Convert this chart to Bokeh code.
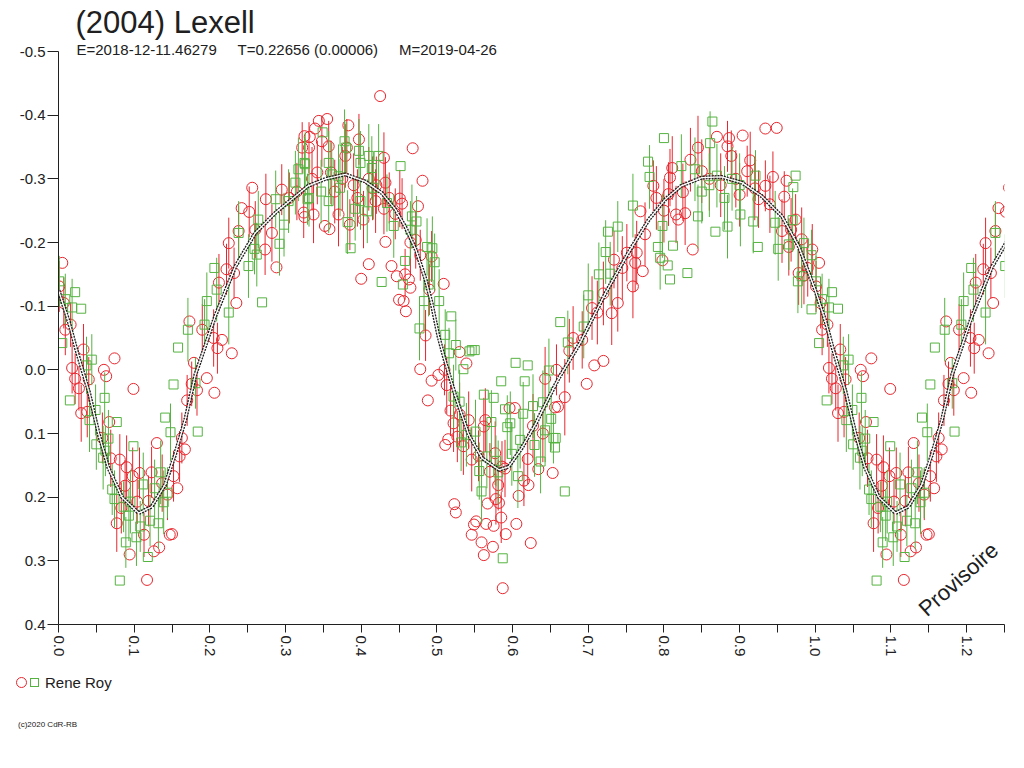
import math
from bokeh.plotting import figure
from bokeh.layouts import column
from bokeh.models import (Range1d, FixedTicker, PrintfTickFormatter, Label, Title,
                          ColumnDataSource, Div)
from bokeh.embed import file_html
from bokeh.resources import INLINE

FONT = "Liberation Sans"
INK = "#202020"
RED = "#e8262d"
GREEN = "#55b340"
NB = "\u00a0" * 5

title = "(2004) Lexell"
subtitle = "E=2018-12-11.46279" + NB + "T=0.22656 (0.00006)" + NB + "M=2019-04-26"
observer = "Rene Roy"
credit = "(c)2020 CdR-RB"

x_ticks = [0.0, 0.1, 0.2, 0.3, 0.4, 0.5, 0.6, 0.7, 0.8, 0.9, 1.0, 1.1, 1.2]
x_minor = [0.05, 0.15, 0.25, 0.35, 0.45, 0.55, 0.65, 0.75, 0.85, 0.95, 1.05, 1.15, 1.25]
y_ticks = [-0.5, -0.4, -0.3, -0.2, -0.1, 0.0, 0.1, 0.2, 0.3, 0.4]

# red observations: phase, relative magnitude, error (0 = no bar)
red_phase = [
    0.005, 0.007, 0.009, 0.016, 0.018, 0.022, 0.027, 0.033, 0.030, 0.038,
    0.040, 0.060, 0.063, 0.074, 0.099, 0.067, 0.058, 0.069, 0.081, 0.090,
    0.098, 0.088, 0.107, 0.123, 0.130, 0.104, 0.119, 0.083, 0.077, 0.094,
    0.113, 0.126, 0.133, 0.117, 0.147, 0.150, 0.137, 0.144, 0.152, 0.157,
    0.160, 0.163, 0.167, 0.170, 0.176, 0.183, 0.179, 0.196, 0.206, 0.210,
    0.229, 0.173, 0.190, 0.205, 0.216, 0.212, 0.222, 0.232, 0.235, 0.225,
    0.238, 0.242, 0.252, 0.256, 0.260, 0.273, 0.274, 0.282, 0.288, 0.295,
    0.305, 0.315, 0.325, 0.322, 0.324, 0.325, 0.001,
    0.425, 0.344, 0.355, 0.339, 0.332, 0.348, 0.383, 0.397, 0.381, 0.331,
    0.357, 0.379, 0.430, 0.468, 0.481, 0.432, 0.451, 0.454, 0.475, 0.419,
    0.430, 0.370, 0.337, 0.403, 0.352, 0.358, 0.385, 0.432, 0.410, 0.400,
    0.440, 0.447, 0.458, 0.463, 0.493, 0.509, 0.490, 0.465, 0.450, 0.456,
    0.459, 0.485, 0.472, 0.335, 0.342, 0.360, 0.365, 0.375, 0.390, 0.395,
    0.410, 0.415, 0.420, 0.437, 0.445, 0.465, 0.478,
    0.478, 0.493, 0.502, 0.513, 0.488, 0.530, 0.539, 0.510, 0.518, 0.522,
    0.542, 0.527, 0.515, 0.511, 0.564, 0.562, 0.596, 0.603, 0.627, 0.643,
    0.658, 0.656, 0.653, 0.634, 0.621, 0.615, 0.608, 0.546, 0.577, 0.586,
    0.590, 0.581, 0.578, 0.582, 0.567, 0.523, 0.525, 0.585, 0.552, 0.549,
    0.565, 0.575, 0.605, 0.591, 0.546, 0.559, 0.574, 0.624, 0.562, 0.587,
    0.535, 0.555, 0.570, 0.530, 0.620, 0.640,
    0.934, 0.949, 0.870, 0.886, 0.904, 0.845, 0.884, 0.835, 0.889, 0.914,
    0.811, 0.850, 0.910, 0.808, 0.944, 0.962, 0.786, 0.934, 0.825, 0.806,
    0.790, 0.959, 0.925, 0.816, 0.828, 0.819, 0.974, 0.956, 0.982, 0.996,
    0.965, 0.769, 0.775, 0.838, 0.798, 0.751, 0.764, 0.762, 0.772, 0.759,
    0.734, 0.731, 0.739, 0.705, 0.712, 0.692, 0.978, 0.985, 0.720, 0.708,
    0.698, 0.669, 0.660, 0.860, 0.875, 0.895, 0.920, 0.900, 0.940, 0.968,
    0.990, 0.800, 0.745, 0.720, 0.680, 0.675,
]
red_mag = [
    -0.168, -0.105, -0.063, -0.071, -0.003, 0.014, 0.029, -0.032, 0.068, 0.066,
    0.015, 0.000, 0.010, -0.018, 0.030, 0.082, 0.107, 0.139, 0.141, 0.153,
    0.167, 0.182, 0.162, 0.161, 0.115, 0.207, 0.206, 0.217, 0.241, 0.290,
    0.259, 0.285, 0.279, 0.330, 0.259, 0.258, 0.178, 0.196, 0.167, 0.186,
    0.136, 0.107, 0.125, 0.048, 0.022, 0.032, -0.011, 0.013, 0.036, -0.034,
    -0.026, -0.076, -0.063, -0.050, -0.047, -0.137, -0.158, -0.152, -0.105, -0.199,
    -0.218, -0.254, -0.248, -0.286, -0.220, -0.189, -0.268, -0.215, -0.161, -0.283,
    -0.270, -0.280, -0.367, -0.349, -0.247, -0.240, -0.131,
    -0.430, -0.391, -0.394, -0.379, -0.366, -0.359, -0.384, -0.362, -0.349, -0.349,
    -0.351, -0.336, -0.333, -0.348, -0.297, -0.294, -0.269, -0.261, -0.257, -0.265,
    -0.253, -0.244, -0.244, -0.236, -0.226, -0.221, -0.228, -0.201, -0.166, -0.143,
    -0.163, -0.147, -0.150, -0.142, -0.178, -0.135, -0.126, -0.129, -0.110, -0.108,
    -0.092, -0.054, -0.204, -0.300, -0.310, -0.310, -0.280, -0.300, -0.290, -0.270,
    -0.300, -0.285, -0.290, -0.270, -0.245, -0.200, -0.180,
    -0.001, 0.017, 0.008, 0.024, 0.048, -0.028, -0.010, 0.000, 0.064, 0.084,
    0.079, 0.105, 0.109, 0.118, 0.079, 0.089, 0.060, 0.060, 0.088, 0.014,
    0.000, 0.059, 0.162, 0.156, 0.181, 0.174, 0.198, 0.141, 0.131, 0.152,
    0.155, 0.181, 0.203, 0.209, 0.210, 0.211, 0.224, 0.232, 0.238, 0.243,
    0.242, 0.245, 0.242, 0.258, 0.259, 0.271, 0.278, 0.272, 0.291, 0.343,
    0.120, 0.135, 0.160, 0.070, 0.140, 0.100,
    -0.379, -0.380, -0.366, -0.364, -0.368, -0.349, -0.351, -0.330, -0.336, -0.329,
    -0.317, -0.312, -0.312, -0.302, -0.303, -0.297, -0.289, -0.289, -0.279, -0.276,
    -0.270, -0.272, -0.268, -0.244, -0.246, -0.236, -0.236, -0.218, -0.205, -0.189,
    -0.193, -0.249, -0.213, -0.189, -0.172, -0.184, -0.184, -0.168, -0.155, -0.131,
    -0.173, -0.089, -0.105, -0.097, -0.090, -0.047, -0.152, -0.148, -0.014, -0.007,
    0.022, 0.043, 0.058, -0.300, -0.290, -0.300, -0.285, -0.275, -0.260, -0.220,
    -0.160, -0.250, -0.160, -0.120, -0.050, -0.030,
]
red_err = [
    0, .04, .04, .035, .04, .04, .035, .04, .045, .04,
    .035, 0, 0, 0, 0, 0, .04, .045, .04, .05,
    .045, .04, .04, .04, 0, .035, .04, .04, .045, 0,
    .035, 0, 0, 0, 0, 0, .045, .04, .04, 0,
    .04, .04, 0, .04, .035, .04, 0, 0, 0, .04,
    0, 0, .04, .045, 0, .045, .04, .04, 0, .04,
    .04, 0, .04, 0, .045, .04, .04, .045, 0, .04,
    .04, .045, 0, .04, .04, 0, .04,
    0, 0, 0, 0, 0, .04, 0, .04, .045, .04,
    .04, .05, .04, 0, 0, .04, .045, .04, 0, .05,
    .04, .05, .045, .045, 0, 0, .04, 0, 0, 0,
    0, 0, .04, 0, .04, 0, .04, 0, 0, 0,
    0, .04, .045, .05, .05, .05, .05, .05, .05, .045,
    .05, .05, .045, .04, .04, .05, .04,
    0, 0, 0, .045, 0, 0, 0, .04, .04, .045,
    .045, .04, 0, 0, .05, .045, 0, 0, .05, .05,
    .04, 0, 0, 0, 0, .04, 0, .05, .05, .04,
    .045, .04, .04, 0, 0, 0, 0, .04, 0, 0,
    0, 0, 0, 0, 0, 0, 0, 0, 0, 0,
    .045, .04, .045, .05, .04, .045,
    0, 0, 0, 0, 0, .05, .04, .05, .04, .045,
    .05, .05, .04, .045, .04, 0, .04, .04, .045, .05,
    .05, .04, .045, .045, .05, 0, .04, .05, .05, .04,
    .045, 0, .05, 0, 0, .045, .05, .045, 0, .05,
    .045, .05, .045, .05, .05, .045, .05, .045, 0, 0,
    0, .06, 0, .05, .05, .045, .05, .05, .045, .05,
    .045, .05, .05, .05, .05, .05,
]

# green observations
green_phase = [
    0.001, 0.022, 0.030, 0.018, 0.009, 0.005, 0.044, 0.037, 0.015, 0.061,
    0.049, 0.041, 0.077, 0.050, 0.066, 0.062, 0.059, 0.099, 0.071, 0.074,
    0.086, 0.093, 0.095, 0.112, 0.127, 0.121, 0.132, 0.108, 0.103, 0.089,
    0.118, 0.081, 0.135, 0.139, 0.144, 0.141, 0.148, 0.152, 0.158, 0.184,
    0.181, 0.206, 0.209, 0.196, 0.225, 0.269, 0.171, 0.193, 0.238, 0.251,
    0.264, 0.262, 0.259, 0.292, 0.298, 0.287, 0.304, 0.313, 0.317, 0.326,
    0.329,
    0.349, 0.378, 0.380, 0.452, 0.386, 0.427, 0.397, 0.399, 0.410, 0.423,
    0.414, 0.357, 0.361, 0.370, 0.372, 0.325, 0.331, 0.357, 0.347, 0.392,
    0.408, 0.399, 0.382, 0.416, 0.434, 0.443, 0.467, 0.473, 0.465, 0.487,
    0.494, 0.497, 0.458, 0.455, 0.483, 0.489, 0.503, 0.519, 0.477, 0.511,
    0.525, 0.516, 0.543, 0.546, 0.550, 0.535, 0.604, 0.620, 0.585, 0.616,
    0.648, 0.562, 0.575, 0.590, 0.627, 0.640, 0.614, 0.597, 0.593, 0.572,
    0.651, 0.643, 0.654, 0.656, 0.629, 0.610, 0.599, 0.551, 0.539, 0.532,
    0.522, 0.530, 0.566, 0.578, 0.556, 0.581, 0.607, 0.559, 0.637, 0.587,
    0.669,
    0.864, 0.800, 0.861, 0.779, 0.781, 0.974, 0.971, 0.823, 0.841, 0.921,
    0.870, 0.890, 0.900, 0.850, 0.860, 0.880, 0.759, 0.726, 0.739, 0.723,
    0.714, 0.729, 0.700, 0.663, 0.694, 0.673, 0.798, 0.792, 0.795, 0.805,
    0.812, 0.808, 0.831, 0.868, 0.884, 0.845, 0.901, 0.924, 0.918, 0.947,
    0.951, 0.970, 0.965, 0.985, 0.995, 0.982, 0.977, 0.995, 0.657,
]
green_mag = [
    -0.139, -0.122, -0.096, -0.098, -0.111, -0.042, -0.016, -0.007, 0.048, 0.044,
    0.063, 0.079, 0.082, 0.117, 0.108, 0.127, 0.138, 0.120, 0.188, 0.203,
    0.215, 0.229, 0.207, 0.180, 0.186, 0.237, 0.241, 0.246, 0.263, 0.271,
    0.294, 0.331, 0.161, 0.208, 0.193, 0.075, 0.098, 0.023, -0.035, 0.097,
    0.021, -0.160, -0.126, -0.108, -0.090, -0.106, -0.063, -0.071, -0.215, -0.163,
    -0.236, -0.181, -0.190, -0.198, -0.228, -0.268, -0.265, -0.294, -0.315, -0.323,
    -0.268,
    -0.373, -0.359, -0.349, -0.320, -0.191, -0.138, -0.344, -0.325, -0.336, -0.336,
    -0.317, -0.325, -0.307, -0.304, -0.286, -0.325, -0.270, -0.265, -0.280, -0.253,
    -0.249, -0.265, -0.232, -0.286, -0.262, -0.226, -0.241, -0.233, -0.220, -0.193,
    -0.191, -0.169, -0.171, -0.134, -0.108, -0.134, -0.108, -0.084, -0.065, -0.055,
    -0.039, -0.026, -0.029, -0.031, -0.031, -0.001, -0.011, -0.007, 0.018, 0.018,
    0.001, 0.039, 0.044, 0.062, 0.057, 0.051, 0.069, 0.084, 0.090, 0.082,
    0.077, 0.095, 0.107, 0.122, 0.118, 0.110, 0.132, 0.097, 0.102, 0.114,
    0.042, 0.050, 0.136, 0.143, 0.159, 0.161, 0.167, 0.191, 0.144, 0.296,
    0.191,
    -0.390, -0.364, -0.356, -0.327, -0.303, -0.305, -0.287, -0.320, -0.315, -0.305,
    -0.305, -0.300, -0.290, -0.280, -0.290, -0.270, -0.258, -0.217, -0.225, -0.185,
    -0.150, -0.151, -0.117, -0.075, -0.068, -0.043, -0.226, -0.193, -0.176, -0.164,
    -0.195, -0.142, -0.152, -0.217, -0.225, -0.241, -0.244, -0.193, -0.233, -0.231,
    -0.190, -0.235, -0.197, -0.199, -0.180, -0.147, -0.139, -0.095, 0.107,
]
green_err = [
    .04, 0, 0, .045, .04, 0, .04, .045, 0, .04,
    .04, .05, 0, .04, .045, .04, .05, 0, .04, .045,
    .04, .04, .05, .05, .045, .04, .04, .04, .045, .04,
    0, 0, .05, .05, .04, 0, .045, 0, 0, 0,
    .04, 0, .05, .045, .05, 0, .05, .04, .05, .05,
    .045, .05, .04, .05, .05, .045, .05, .05, .05, .05,
    .04,
    0, .05, .04, 0, 0, 0, .05, .05, .05, .05,
    .05, .05, .05, .05, .045, .04, .045, .05, .05, .05,
    .05, .045, .05, .05, .045, .05, .05, .04, .045, .045,
    .05, .045, 0, 0, .045, .05, .05, 0, .05, .04,
    .04, .04, 0, 0, 0, 0, 0, 0, 0, 0,
    .05, 0, 0, 0, .05, .05, .05, .05, .05, .05,
    .05, .05, .04, 0, .05, .045, .05, .05, .05, .045,
    .05, .05, .05, .04, .045, .05, .05, .05, .05, 0,
    0,
    0, 0, .05, 0, .05, 0, 0, .05, .05, .04,
    .05, .05, .05, .05, .05, .05, .05, 0, .04, .05,
    .05, .05, .05, 0, .05, .05, .05, 0, .05, 0,
    0, 0, 0, 0, .05, .05, .05, 0, .05, .05,
    .05, .05, .04, .04, .04, .05, .05, 0, 0,
]

# fitted lightcurve
curve_phase = [
    0.000, 0.014, 0.023, 0.040, 0.053, 0.066, 0.084, 0.106, 0.123, 0.141,
    0.154, 0.168, 0.181, 0.196, 0.207, 0.234, 0.260, 0.287, 0.330, 0.353,
    0.379, 0.405, 0.427, 0.445, 0.458, 0.472, 0.485, 0.493, 0.502, 0.511,
    0.524, 0.542, 0.560, 0.582, 0.595, 0.612, 0.630, 0.643, 0.661, 0.689,
    0.723, 0.753, 0.780, 0.802, 0.823, 0.850, 0.876, 0.903, 0.929, 0.956,
    0.978, 1.000,
]
curve_mag = [
    -0.125, -0.074, -0.034, 0.034, 0.100, 0.154, 0.200, 0.225, 0.215, 0.180,
    0.133, 0.076, 0.007, -0.045, -0.084, -0.163, -0.215, -0.247, -0.289, -0.300,
    -0.307, -0.296, -0.278, -0.252, -0.225, -0.189, -0.142, -0.105, -0.053, -0.013,
    0.039, 0.102, 0.139, 0.157, 0.152, 0.123, 0.086, 0.055, 0.013, -0.042,
    -0.121, -0.184, -0.236, -0.268, -0.289, -0.302, -0.303, -0.294, -0.273, -0.241,
    -0.194, -0.125,
]


def wrap(ph, mag, err=None):
    # the chart repeats the first quarter of the phase after 1.0
    xs, ys = list(ph), list(mag)
    es = list(err) if err is not None else [0] * len(ph)
    for a, b, c in zip(ph, mag, es[:len(ph)]):
        if 0 < a <= 0.27:
            xs.append(a + 1.0)
            ys.append(b)
            es.append(c)
    return xs, ys, es


def series_sources(ph, mag, err):
    xs, ys, es = wrap(ph, mag, err)
    pts = ColumnDataSource(dict(x=xs, y=ys))
    bars = [(x, y, e) for x, y, e in zip(xs, ys, es) if e > 0]
    bar_src = ColumnDataSource(dict(
        x=[b[0] for b in bars],
        y0=[b[1] - b[2] for b in bars],
        y1=[b[1] + b[2] for b in bars],
    ))
    return pts, bar_src


p = figure(width=1016, height=668, x_range=Range1d(0, 1.25), y_range=Range1d(0.4, -0.5),
           output_backend="svg", toolbar_location=None,
           min_border_left=58, min_border_right=12, min_border_top=51, min_border_bottom=44)
p.grid.visible = False
p.outline_line_color = None
p.background_fill_color = "white"
p.border_fill_color = "white"

p.title.text = title
p.title.text_font = FONT
p.title.text_font_size = "31px"
p.title.text_font_style = "normal"
p.title.text_color = INK
p.title.align = "left"
p.title.vertical_align = "top"
p.title.offset = 17
p.title.standoff = 6

p.add_layout(Title(text=subtitle, text_font=FONT, text_font_size="15px", text_font_style="normal",
                   text_color=INK, align="left", offset=18, standoff=-12), "above")

p.xaxis.ticker = FixedTicker(ticks=x_ticks, minor_ticks=x_minor)
p.yaxis.ticker = FixedTicker(ticks=y_ticks)
p.xaxis.formatter = PrintfTickFormatter(format="%.1f")
p.yaxis.formatter = PrintfTickFormatter(format="%.1f")
for ax in (p.xaxis[0], p.yaxis[0]):
    ax.axis_line_color = INK
    ax.major_tick_line_color = INK
    ax.major_tick_in = 0
    ax.major_label_text_font = FONT
    ax.major_label_text_font_size = "15px"
    ax.major_label_text_color = INK
p.xaxis.major_label_orientation = -math.pi / 2
p.xaxis.major_tick_out = 8
p.xaxis.minor_tick_in = 0
p.xaxis.minor_tick_out = 8
p.xaxis.minor_tick_line_color = INK
p.xaxis.major_label_standoff = 3
p.yaxis.major_tick_out = 11
p.yaxis.minor_tick_line_color = None
p.yaxis.major_label_standoff = 2

red_pts, red_bars = series_sources(red_phase, red_mag, red_err)
green_pts, green_bars = series_sources(green_phase, green_mag, green_err)

p.segment(x0="x", y0="y0", x1="x", y1="y1", source=red_bars, line_color=RED, line_width=1)
p.scatter("x", "y", source=red_pts, marker="circle", size=11, fill_color=None,
          line_color=RED, line_width=1)
p.segment(x0="x", y0="y0", x1="x", y1="y1", source=green_bars, line_color=GREEN, line_width=1)
p.scatter("x", "y", source=green_pts, marker="square", size=9, fill_color=None,
          line_color=GREEN, line_width=1)

cx, cy, _ = wrap(curve_phase, curve_mag)
order = sorted(range(len(cx)), key=lambda i: cx[i])
cx = [cx[i] for i in order]
cy = [cy[i] for i in order]
# fitted curve: two thin dotted strands
p.line(cx, cy, line_color=INK, line_width=4, line_dash="2 1")
p.line(cx, cy, line_color="white", line_width=1.3)

p.add_layout(Label(x=1.189, y=0.329, text="Provisoire", text_font=FONT, text_font_size="22px",
                   text_color=INK, angle=0.73, text_align="center", text_baseline="middle"))

# key and credit line under the chart
foot_html = f"""
<div style="position:relative;width:1016px;height:96px;font-family:'{FONT}';color:{INK}">
  <span style="position:absolute;left:16px;top:9px;width:11px;height:11px;box-sizing:border-box;
        border:1px solid {RED};border-radius:50%"></span>
  <span style="position:absolute;left:30px;top:10px;width:9px;height:9px;box-sizing:border-box;
        border:1px solid {GREEN}"></span>
  <span style="position:absolute;left:45px;top:6px;font-size:15px;line-height:17px">{observer}</span>
  <span style="position:absolute;left:18px;top:52px;font-size:8px;line-height:10px">{credit}</span>
</div>
"""
foot = Div(text=foot_html, width=1016, height=96, margin=0)

layout = column(p, foot, spacing=0)
open("out.html", "w").write(file_html(layout, INLINE))
